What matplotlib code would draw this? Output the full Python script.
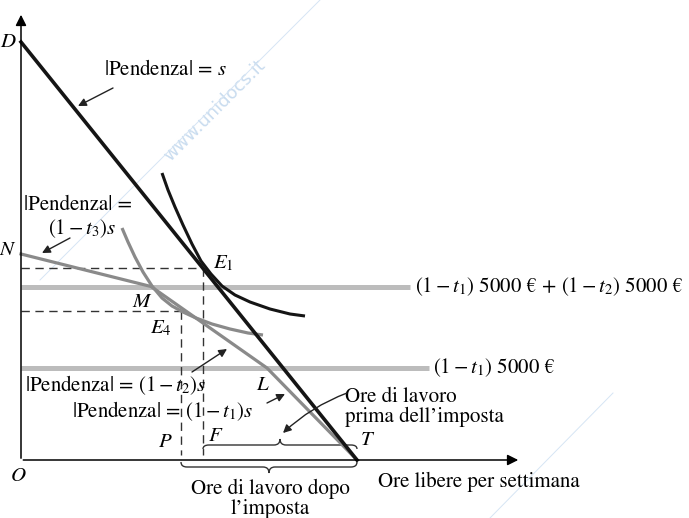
import numpy as np
import matplotlib.pyplot as plt
from matplotlib.path import Path
from matplotlib.patches import PathPatch

plt.rcParams['font.family'] = ['STIXGeneral', 'DejaVu Serif']
plt.rcParams['mathtext.fontset'] = 'stix'

# ore libere (x) e reddito (y), origine in O
D = (0, 418)
T = (336, 0)
budget_x = [0, 130, 246, 336]          # N, kink sup., kink inf., T
budget_y = [206, 173.5, 92, 0]
ic1_x = [141, 147, 154, 162, 171, 180, 190, 201, 214, 229, 249, 269, 284]
ic1_y = [287, 270, 253, 235, 216, 199, 186, 174, 165, 158, 151, 146, 144]
ic2_x = [101, 107, 114, 122, 131, 141, 151, 162, 175, 191, 209, 227, 242]
ic2_y = [232, 218, 203, 188, 174, 162, 154, 148, 142, 136, 131, 127, 125]
E1 = (182, 192)
E4 = (160, 149)
reddito_alto = 173.5
reddito_basso = 92
fine_alto = 389
fine_basso = 408

fig = plt.figure(figsize=(6.89, 5.18), dpi=100)
ax = fig.add_axes([0, 0, 1, 1])
ax.set_xlim(-21, 668)
ax.set_ylim(-58, 460)
ax.axis('off')

# watermark
ax.text(194, 350, 'www.unidocs.it', rotation=45, fontsize=13, color='#c9dcef',
        family='DejaVu Sans', ha='center', va='center', zorder=0)
ax.plot([19, 299], [180, 460], color='#d6e5f4', lw=0.7, zorder=0)
ax.plot([469, 592], [-58, 67], color='#d6e5f4', lw=0.7, zorder=0)

# assi
ax.annotate('', xy=(0, 448), xytext=(0, -1),
            arrowprops=dict(arrowstyle='-|>', color='k', lw=1.1, mutation_scale=16))
ax.annotate('', xy=(500, 0), xytext=(-0.5, 0),
            arrowprops=dict(arrowstyle='-|>', color='k', lw=1.1, mutation_scale=16))

# linee di reddito
ax.plot([0, fine_alto], [reddito_alto, reddito_alto], color='#bcbcbc', lw=3.6, solid_capstyle='butt')
ax.plot([0, fine_basso], [reddito_basso, reddito_basso], color='#bcbcbc', lw=3.6, solid_capstyle='butt')

# tratteggi
ds = dict(color='#333333', lw=1, linestyle=(0, (6, 4)))
ax.plot([0, E1[0]], [E1[1], E1[1]], **ds)
ax.plot([E1[0], E1[0]], [E1[1], 5], **ds)
ax.plot([0, E4[0]], [E4[1], E4[1]], **ds)
ax.plot([E4[0], E4[0]], [E4[1], 5], **ds)

# vincolo senza imposta e curve di indifferenza
ax.plot(budget_x, budget_y, color='#8a8a8a', lw=2.3, solid_joinstyle='round')
ax.plot(ic2_x, ic2_y, color='#8a8a8a', lw=2.3, solid_capstyle='butt', solid_joinstyle='round')
ax.plot([D[0], T[0]], [D[1], T[1]], color='#151515', lw=2.6)
ax.plot(ic1_x, ic1_y, color='#151515', lw=2.2, solid_capstyle='butt', solid_joinstyle='round')


def brace(x1, x2, y_end, y_mid, y_tip):
    xm = (x1 + x2) / 2
    q = 6
    verts = [(x1, y_end), (x1, y_mid), (x1 + q, y_mid),
             (xm - q, y_mid), (xm, y_mid), (xm, y_tip),
             (xm, y_mid), (xm + q, y_mid),
             (x2 - q, y_mid), (x2, y_mid), (x2, y_end)]
    codes = [Path.MOVETO, Path.CURVE3, Path.CURVE3,
             Path.LINETO, Path.CURVE3, Path.CURVE3,
             Path.CURVE3, Path.CURVE3,
             Path.LINETO, Path.CURVE3, Path.CURVE3]
    ax.add_patch(PathPatch(Path(verts, codes), fc='none', ec='#333333', lw=1))


brace(E1[0], T[0], 11, 15, 21)
brace(E4[0], T[0], -2, -7, -13)

fs = 15
ls = 15
# lettere
ax.text(-13, 418, '$D$', fontsize=ls, ha='center', va='center')
ax.text(-13, 210, '$N$', fontsize=ls, ha='center', va='center')
ax.text(-3, -16, '$O$', fontsize=ls, ha='center', va='center')
ax.text(202, 197, '$E_1$', fontsize=ls, ha='center', va='center')
ax.text(121, 158, '$M$', fontsize=ls, ha='center', va='center')
ax.text(140, 132, '$E_4$', fontsize=ls, ha='center', va='center')
ax.text(242, 75, '$L$', fontsize=ls, ha='center', va='center')
ax.text(144, 18, '$P$', fontsize=ls, ha='center', va='center')
ax.text(195, 24, '$F$', fontsize=ls, ha='center', va='center')
ax.text(347, 20, '$T$', fontsize=ls, ha='center', va='center')

# etichette con frecce
arr = dict(arrowstyle='-|>', color='#222222', lw=1, mutation_scale=12, shrinkA=0, shrinkB=0)
ax.text(144, 390, '|Pendenza| = $s$', fontsize=fs, ha='center', va='center')
ax.annotate('', xy=(57, 354), xytext=(92, 372), arrowprops=arr)
ax.text(57, 255, '|Pendenza| =', fontsize=fs, ha='center', va='center')
ax.text(61, 231, '$(1 - t_3)s$', fontsize=fs, ha='center', va='center')
ax.annotate('', xy=(21, 207), xytext=(49, 222), arrowprops=arr)
ax.text(4, 75, '|Pendenza| = $(1 - t_2)s$', fontsize=fs, ha='left', va='center')
ax.annotate('', xy=(206, 111), xytext=(171, 88), arrowprops=arr)
ax.text(51, 49, '|Pendenza| = $(1 - t_1)s$', fontsize=fs, ha='left', va='center')
ax.annotate('', xy=(264, 66), xytext=(246, 57), arrowprops=arr)

ax.text(324, 53, 'Ore di lavoro\nprima dell\u2019imposta', fontsize=fs, ha='left', va='center',
        linespacing=1.0)
ax.annotate('', xy=(262, 27), xytext=(326, 67),
            arrowprops=dict(arr, connectionstyle='arc3,rad=0.1'))

ax.text(249, -39, 'Ore di lavoro dopo\nl\u2019imposta', fontsize=fs, ha='center', va='center',
        linespacing=1.0)
ax.text(357, -22, 'Ore libere per settimana', fontsize=fs, ha='left', va='center')

ax.text(394, reddito_alto, '$(1 - t_1)$ 5000 \u20ac + $(1 - t_2)$ 5000 \u20ac', fontsize=fs,
        ha='left', va='center')
ax.text(412, reddito_basso, '$(1 - t_1)$ 5000 \u20ac', fontsize=fs, ha='left', va='center')

fig.savefig('out.png', dpi=100)
